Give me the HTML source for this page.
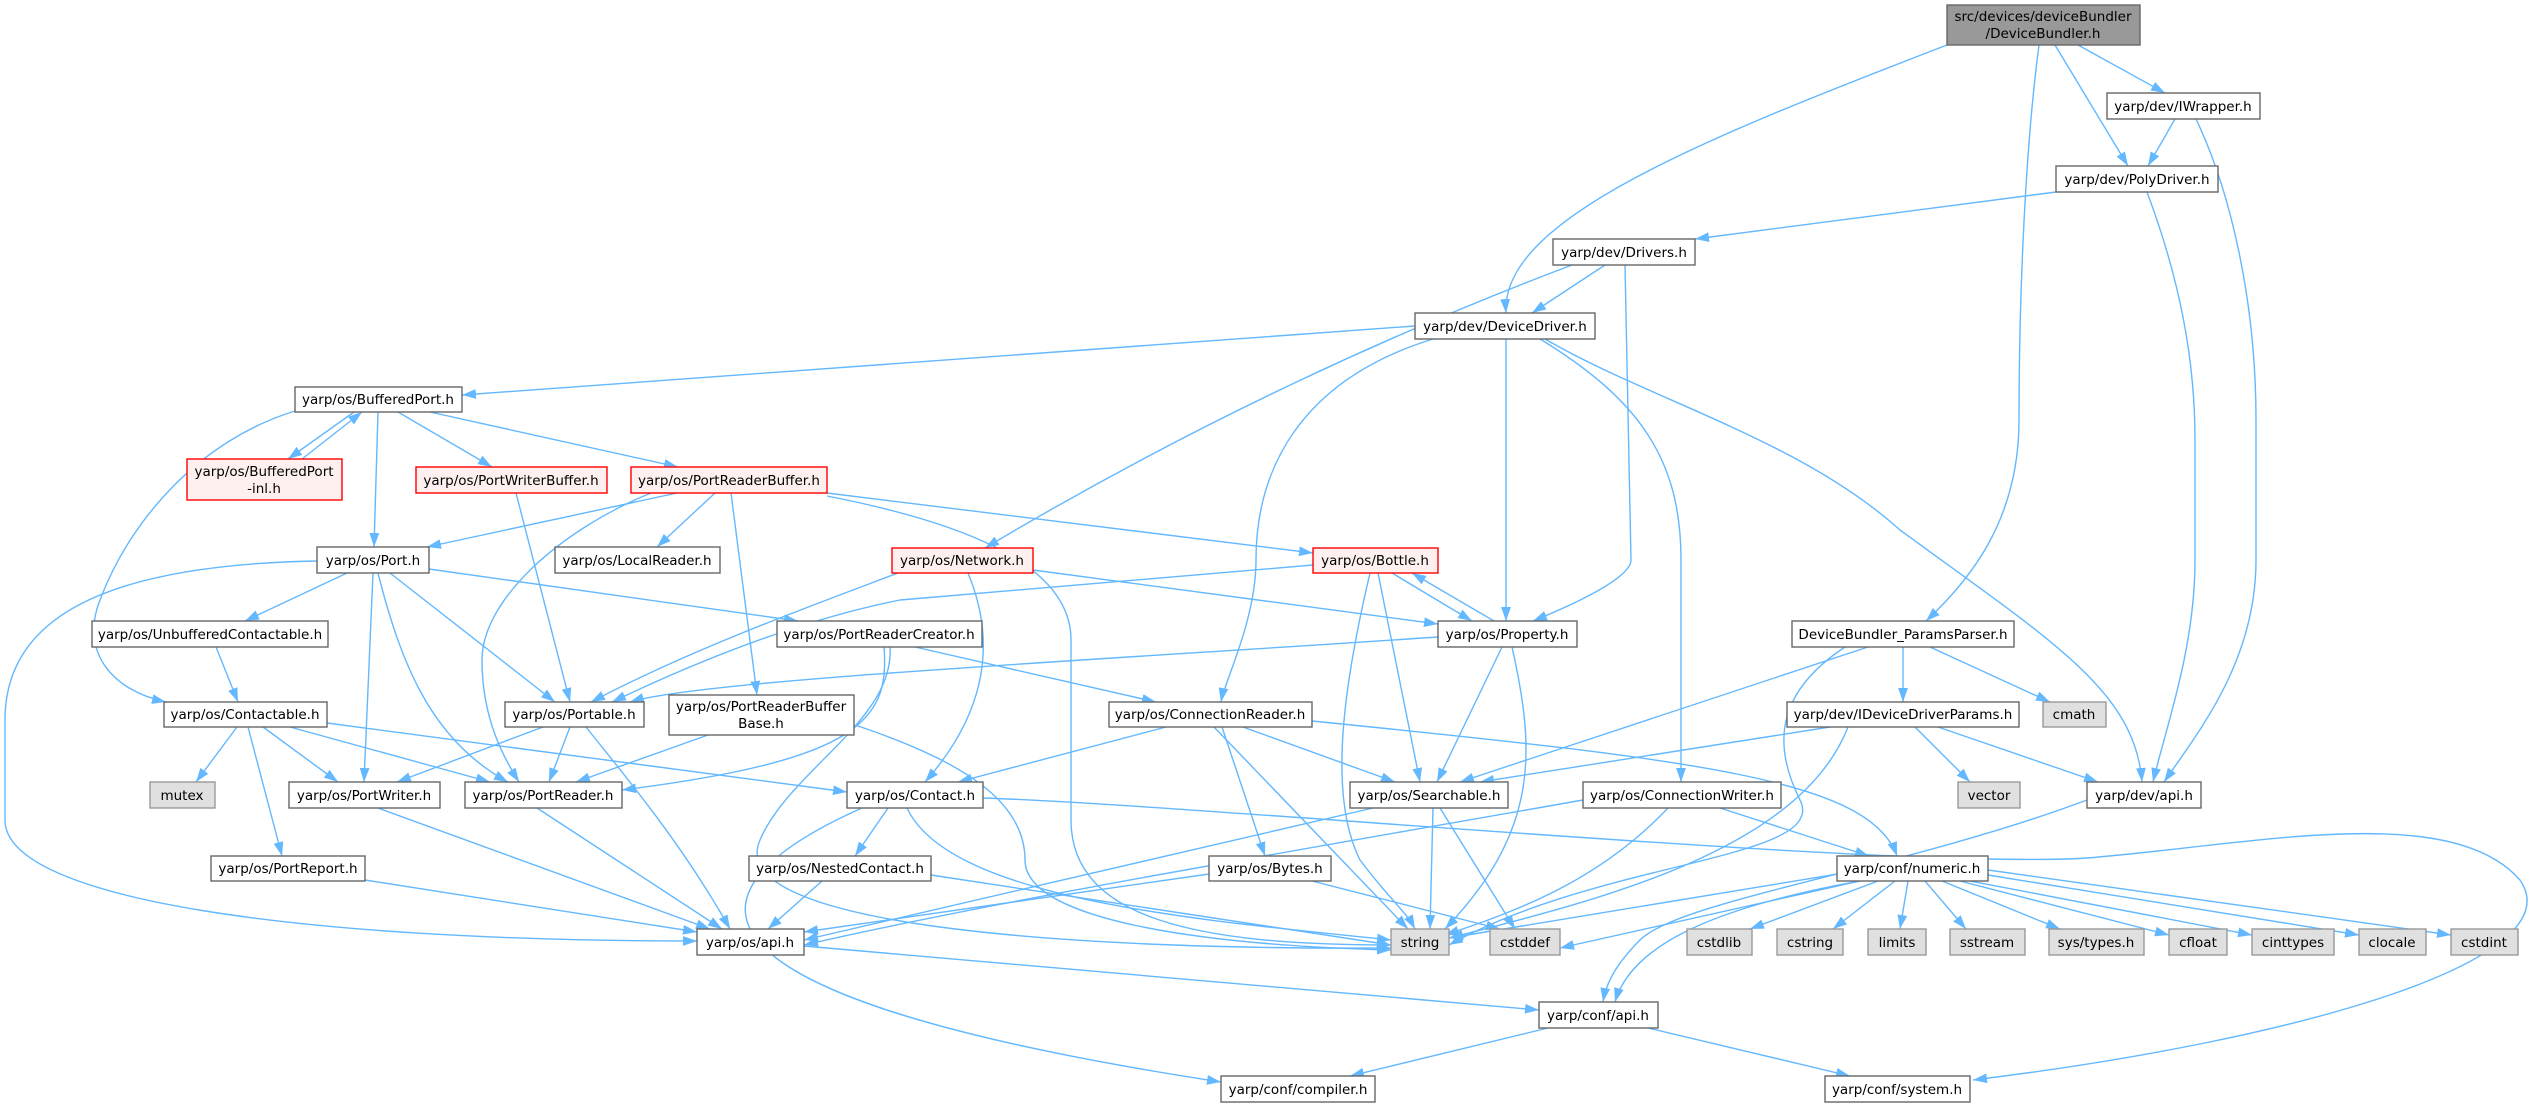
<!DOCTYPE html>
<html><head><meta charset="utf-8"><style>
html,body{margin:0;padding:0;background:#fff;}
svg{display:block;}
text{font-family:"DejaVu Sans","Liberation Sans",sans-serif;font-size:13.5px;fill:#000;text-anchor:middle;}
.e{fill:none;stroke:#63b8ff;stroke-width:1.4;marker-end:url(#a);}
.n rect{fill:#fff;stroke:#666;stroke-width:1.4;}
.g rect{fill:#e0e0e0;stroke:#999;stroke-width:1.4;}
.r rect{fill:#fff0f0;stroke:#ff0000;stroke-width:1.4;}
.d rect{fill:#999;stroke:#666;stroke-width:1.4;}
</style></head><body>
<svg width="2545" height="1107" viewBox="0 0 2545 1107" xmlns="http://www.w3.org/2000/svg">
<defs><marker id="a" viewBox="0 0 10 7" refX="10" refY="3.5" markerUnits="userSpaceOnUse" markerWidth="14" markerHeight="10" orient="auto"><path d="M0,0 L10,3.5 L0,7 z" fill="#63b8ff"/></marker></defs>

<!-- edges -->
<path class="e" d="M2078,45 L2165,93"/>
<path class="e" d="M2055,45 L2128,166"/>
<path class="e" d="M1947,45 C1700,140 1500,220 1506,313"/>
<path class="e" d="M2039,45 C2025,150 2019,300 2019,420 C2019,520 1970,580 1926,621"/>
<path class="e" d="M2175,119 L2148,166"/>
<path class="e" d="M2196,119 C2230,190 2256,300 2256,420 L2256,560 C2256,660 2200,730 2164,782"/>
<path class="e" d="M2056,192 L1695,239"/>
<path class="e" d="M2147,192 C2180,280 2195,360 2195,440 L2195,560 C2195,650 2165,730 2153,782"/>
<path class="e" d="M1605,265 L1532,313"/>
<path class="e" d="M1572,265 C1400,330 1200,420 985,548"/>
<path class="e" d="M1625,265 L1631,560 C1631,580 1560,610 1533,621"/>
<path class="e" d="M1506,339 L1506,621"/>
<path class="e" d="M1415,326 L462,395"/>
<path class="e" d="M1433,339 C1300,380 1256,470 1256,560 C1256,620 1225,680 1221,702"/>
<path class="e" d="M1540,339 C1640,400 1681,460 1681,560 L1681,782"/>
<path class="e" d="M1545,339 C1650,400 1800,440 1900,530 C2050,640 2135,690 2142,782"/>
<path class="e" d="M354,412 L288,459"/>
<path class="e" d="M302,459 L362,412"/>
<path class="e" d="M378,412 L374,547"/>
<path class="e" d="M398,412 L492,467"/>
<path class="e" d="M430,412 L678,467"/>
<path class="e" d="M295,411 C200,440 130,520 100,600 C80,650 110,690 166,702"/>
<path class="e" d="M516,493 L570,702"/>
<path class="e" d="M677,493 L427,547"/>
<path class="e" d="M715,493 L657,547"/>
<path class="e" d="M731,493 L757,695"/>
<path class="e" d="M651,493 C560,530 482,600 482,660 C482,720 505,760 519,782"/>
<path class="e" d="M827,493 L1313,553"/>
<path class="e" d="M827,496 C950,520 1071,560 1071,640 L1071,820 C1071,920 1200,945 1391,945"/>
<path class="e" d="M317,561 C100,565 5,620 5,720 L5,820 C5,900 300,941 697,941"/>
<path class="e" d="M347,573 L245,621"/>
<path class="e" d="M373,573 L364,782"/>
<path class="e" d="M378,573 C400,660 430,740 508,782"/>
<path class="e" d="M390,573 L555,702"/>
<path class="e" d="M429,569 L798,621"/>
<path class="e" d="M216,647 L238,702"/>
<path class="e" d="M915,647 L1156,702"/>
<path class="e" d="M884,647 C890,720 860,760 622,790"/>
<path class="e" d="M890,647 C895,720 790,770 760,840 C720,930 1100,950 1391,948"/>
<path class="e" d="M237,727 L196,782"/>
<path class="e" d="M263,727 L338,782"/>
<path class="e" d="M290,727 L490,782"/>
<path class="e" d="M327,723 L847,792"/>
<path class="e" d="M248,727 L282,856"/>
<path class="e" d="M543,727 L397,782"/>
<path class="e" d="M570,727 L549,782"/>
<path class="e" d="M586,727 C620,770 680,840 730,929"/>
<path class="e" d="M708,735 L576,782"/>
<path class="e" d="M855,725 C960,760 1025,800 1025,860 C1025,920 1200,945 1391,950"/>
<path class="e" d="M898,573 C800,610 690,650 591,702"/>
<path class="e" d="M1033,570 L1438,624"/>
<path class="e" d="M968,573 C1000,650 980,720 925,782"/>
<path class="e" d="M1313,565 L900,600 C800,620 700,660 612,702"/>
<path class="e" d="M1392,573 L1472,621"/>
<path class="e" d="M1494,621 L1412,573"/>
<path class="e" d="M1378,573 L1420,782"/>
<path class="e" d="M1370,573 C1340,700 1330,800 1360,860 C1390,900 1405,910 1415,929"/>
<path class="e" d="M1438,637 C1100,660 700,680 630,702"/>
<path class="e" d="M1502,647 L1437,782"/>
<path class="e" d="M1512,647 C1535,750 1540,830 1445,929"/>
<path class="e" d="M1166,727 L958,782"/>
<path class="e" d="M1243,727 L1395,782"/>
<path class="e" d="M1222,727 L1265,856"/>
<path class="e" d="M1214,727 L1408,929"/>
<path class="e" d="M1312,721 C1700,760 1870,780 1897,856"/>
<path class="e" d="M888,808 L855,856"/>
<path class="e" d="M907,808 C950,900 1200,920 1391,940"/>
<path class="e" d="M862,808 C700,880 620,990 1221,1082"/>
<path class="e" d="M983,798 C1200,805 1900,870 2087,858 C2250,845 2450,800 2520,880 C2575,960 2300,1040 1973,1080"/>
<path class="e" d="M1373,808 L804,940"/>
<path class="e" d="M1433,808 L1430,929"/>
<path class="e" d="M1440,808 L1515,929"/>
<path class="e" d="M1583,800 C1300,850 1000,900 804,945"/>
<path class="e" d="M1668,808 C1600,880 1520,910 1445,935"/>
<path class="e" d="M1720,808 L1869,856"/>
<path class="e" d="M2087,800 C1900,870 1680,900 1640,940 C1610,970 1605,990 1603,1002"/>
<path class="e" d="M1830,727 L1480,782"/>
<path class="e" d="M1848,727 C1800,850 1600,900 1449,938"/>
<path class="e" d="M1915,727 L1970,782"/>
<path class="e" d="M1938,727 L2098,782"/>
<path class="e" d="M1903,647 L1903,702"/>
<path class="e" d="M1930,647 L2050,702"/>
<path class="e" d="M1868,647 L1460,782"/>
<path class="e" d="M1845,647 C1780,690 1770,740 1800,800 C1830,860 1600,860 1449,945"/>
<path class="e" d="M822,881 L768,929"/>
<path class="e" d="M931,875 L1391,945"/>
<path class="e" d="M365,880 L697,932"/>
<path class="e" d="M378,808 L710,929"/>
<path class="e" d="M537,808 L722,929"/>
<path class="e" d="M1209,874 L804,932"/>
<path class="e" d="M1312,881 L1500,929"/>
<path class="e" d="M804,946 L1539,1010"/>
<path class="e" d="M1548,1028 L1350,1076"/>
<path class="e" d="M1648,1028 L1850,1076"/>
<path class="e" d="M1850,872 L1449,938"/>
<path class="e" d="M1860,881 L1560,948"/>
<path class="e" d="M1878,881 L1750,929"/>
<path class="e" d="M1895,881 L1833,929"/>
<path class="e" d="M1908,881 L1900,929"/>
<path class="e" d="M1925,881 L1966,929"/>
<path class="e" d="M1942,881 L2060,929"/>
<path class="e" d="M1960,881 L2169,935"/>
<path class="e" d="M1970,881 L2252,935"/>
<path class="e" d="M1988,875 L2359,935"/>
<path class="e" d="M1988,870 L2451,935"/>
<path class="e" d="M1860,881 C1700,910 1630,950 1615,1002"/>

<!-- nodes -->
<g class="d"><rect x="1947" y="5" width="193" height="40"/><text x="2043" y="21">src/devices/deviceBundler</text><text x="2043" y="38">/DeviceBundler.h</text></g>
<g class="n"><rect x="2107" y="93" width="153" height="26"/><text x="2183" y="111">yarp/dev/IWrapper.h</text></g>
<g class="n"><rect x="2056" y="166" width="162" height="26"/><text x="2137" y="184">yarp/dev/PolyDriver.h</text></g>
<g class="n"><rect x="1553" y="239" width="142" height="26"/><text x="1624" y="257">yarp/dev/Drivers.h</text></g>
<g class="n"><rect x="1415" y="313" width="180" height="26"/><text x="1505" y="331">yarp/dev/DeviceDriver.h</text></g>
<g class="n"><rect x="295" y="387" width="167" height="25"/><text x="378" y="404">yarp/os/BufferedPort.h</text></g>
<g class="r"><rect x="187" y="459" width="155" height="41"/><text x="264" y="476">yarp/os/BufferedPort</text><text x="264" y="493">-inl.h</text></g>
<g class="r"><rect x="416" y="467" width="191" height="26"/><text x="511" y="485">yarp/os/PortWriterBuffer.h</text></g>
<g class="r"><rect x="631" y="467" width="196" height="26"/><text x="729" y="485">yarp/os/PortReaderBuffer.h</text></g>
<g class="n"><rect x="317" y="547" width="112" height="26"/><text x="373" y="565">yarp/os/Port.h</text></g>
<g class="n"><rect x="555" y="547" width="165" height="26"/><text x="637" y="565">yarp/os/LocalReader.h</text></g>
<g class="r"><rect x="892" y="548" width="141" height="25"/><text x="962" y="565">yarp/os/Network.h</text></g>
<g class="r"><rect x="1313" y="548" width="125" height="25"/><text x="1375" y="565">yarp/os/Bottle.h</text></g>
<g class="n"><rect x="92" y="621" width="236" height="26"/><text x="210" y="639">yarp/os/UnbufferedContactable.h</text></g>
<g class="n"><rect x="777" y="621" width="205" height="26"/><text x="879" y="639">yarp/os/PortReaderCreator.h</text></g>
<g class="n"><rect x="1438" y="621" width="139" height="26"/><text x="1507" y="639">yarp/os/Property.h</text></g>
<g class="n"><rect x="1792" y="621" width="222" height="26"/><text x="1903" y="639">DeviceBundler_ParamsParser.h</text></g>
<g class="n"><rect x="164" y="702" width="163" height="25"/><text x="245" y="719">yarp/os/Contactable.h</text></g>
<g class="n"><rect x="505" y="702" width="139" height="25"/><text x="574" y="719">yarp/os/Portable.h</text></g>
<g class="n"><rect x="669" y="695" width="185" height="40"/><text x="761" y="711">yarp/os/PortReaderBuffer</text><text x="761" y="728">Base.h</text></g>
<g class="n"><rect x="1109" y="702" width="203" height="25"/><text x="1210" y="719">yarp/os/ConnectionReader.h</text></g>
<g class="n"><rect x="1787" y="702" width="232" height="25"/><text x="1903" y="719">yarp/dev/IDeviceDriverParams.h</text></g>
<g class="g"><rect x="2043" y="702" width="63" height="25"/><text x="2074" y="719">cmath</text></g>
<g class="g"><rect x="150" y="782" width="65" height="26"/><text x="182" y="800">mutex</text></g>
<g class="n"><rect x="289" y="782" width="151" height="26"/><text x="364" y="800">yarp/os/PortWriter.h</text></g>
<g class="n"><rect x="465" y="782" width="157" height="26"/><text x="543" y="800">yarp/os/PortReader.h</text></g>
<g class="n"><rect x="847" y="782" width="136" height="26"/><text x="915" y="800">yarp/os/Contact.h</text></g>
<g class="n"><rect x="1350" y="782" width="158" height="26"/><text x="1429" y="800">yarp/os/Searchable.h</text></g>
<g class="n"><rect x="1583" y="782" width="198" height="26"/><text x="1682" y="800">yarp/os/ConnectionWriter.h</text></g>
<g class="g"><rect x="1958" y="782" width="62" height="26"/><text x="1989" y="800">vector</text></g>
<g class="n"><rect x="2087" y="782" width="114" height="26"/><text x="2144" y="800">yarp/dev/api.h</text></g>
<g class="n"><rect x="211" y="856" width="154" height="25"/><text x="288" y="873">yarp/os/PortReport.h</text></g>
<g class="n"><rect x="749" y="856" width="182" height="25"/><text x="840" y="873">yarp/os/NestedContact.h</text></g>
<g class="n"><rect x="1209" y="856" width="122" height="25"/><text x="1270" y="873">yarp/os/Bytes.h</text></g>
<g class="n"><rect x="1837" y="856" width="151" height="25"/><text x="1912" y="873">yarp/conf/numeric.h</text></g>
<g class="n"><rect x="697" y="929" width="107" height="26"/><text x="750" y="947">yarp/os/api.h</text></g>
<g class="g"><rect x="1391" y="929" width="58" height="26"/><text x="1420" y="947">string</text></g>
<g class="g"><rect x="1490" y="929" width="70" height="26"/><text x="1525" y="947">cstddef</text></g>
<g class="g"><rect x="1687" y="929" width="65" height="26"/><text x="1719" y="947">cstdlib</text></g>
<g class="g"><rect x="1777" y="929" width="66" height="26"/><text x="1810" y="947">cstring</text></g>
<g class="g"><rect x="1868" y="929" width="58" height="26"/><text x="1897" y="947">limits</text></g>
<g class="g"><rect x="1950" y="929" width="75" height="26"/><text x="1987" y="947">sstream</text></g>
<g class="g"><rect x="2049" y="929" width="95" height="26"/><text x="2096" y="947">sys/types.h</text></g>
<g class="g"><rect x="2169" y="929" width="58" height="26"/><text x="2198" y="947">cfloat</text></g>
<g class="g"><rect x="2252" y="929" width="82" height="26"/><text x="2293" y="947">cinttypes</text></g>
<g class="g"><rect x="2359" y="929" width="67" height="26"/><text x="2392" y="947">clocale</text></g>
<g class="g"><rect x="2451" y="929" width="67" height="26"/><text x="2484" y="947">cstdint</text></g>
<g class="n"><rect x="1539" y="1002" width="119" height="26"/><text x="1598" y="1020">yarp/conf/api.h</text></g>
<g class="n"><rect x="1221" y="1076" width="154" height="26"/><text x="1298" y="1094">yarp/conf/compiler.h</text></g>
<g class="n"><rect x="1825" y="1076" width="145" height="26"/><text x="1897" y="1094">yarp/conf/system.h</text></g>
</svg>
</body></html>
